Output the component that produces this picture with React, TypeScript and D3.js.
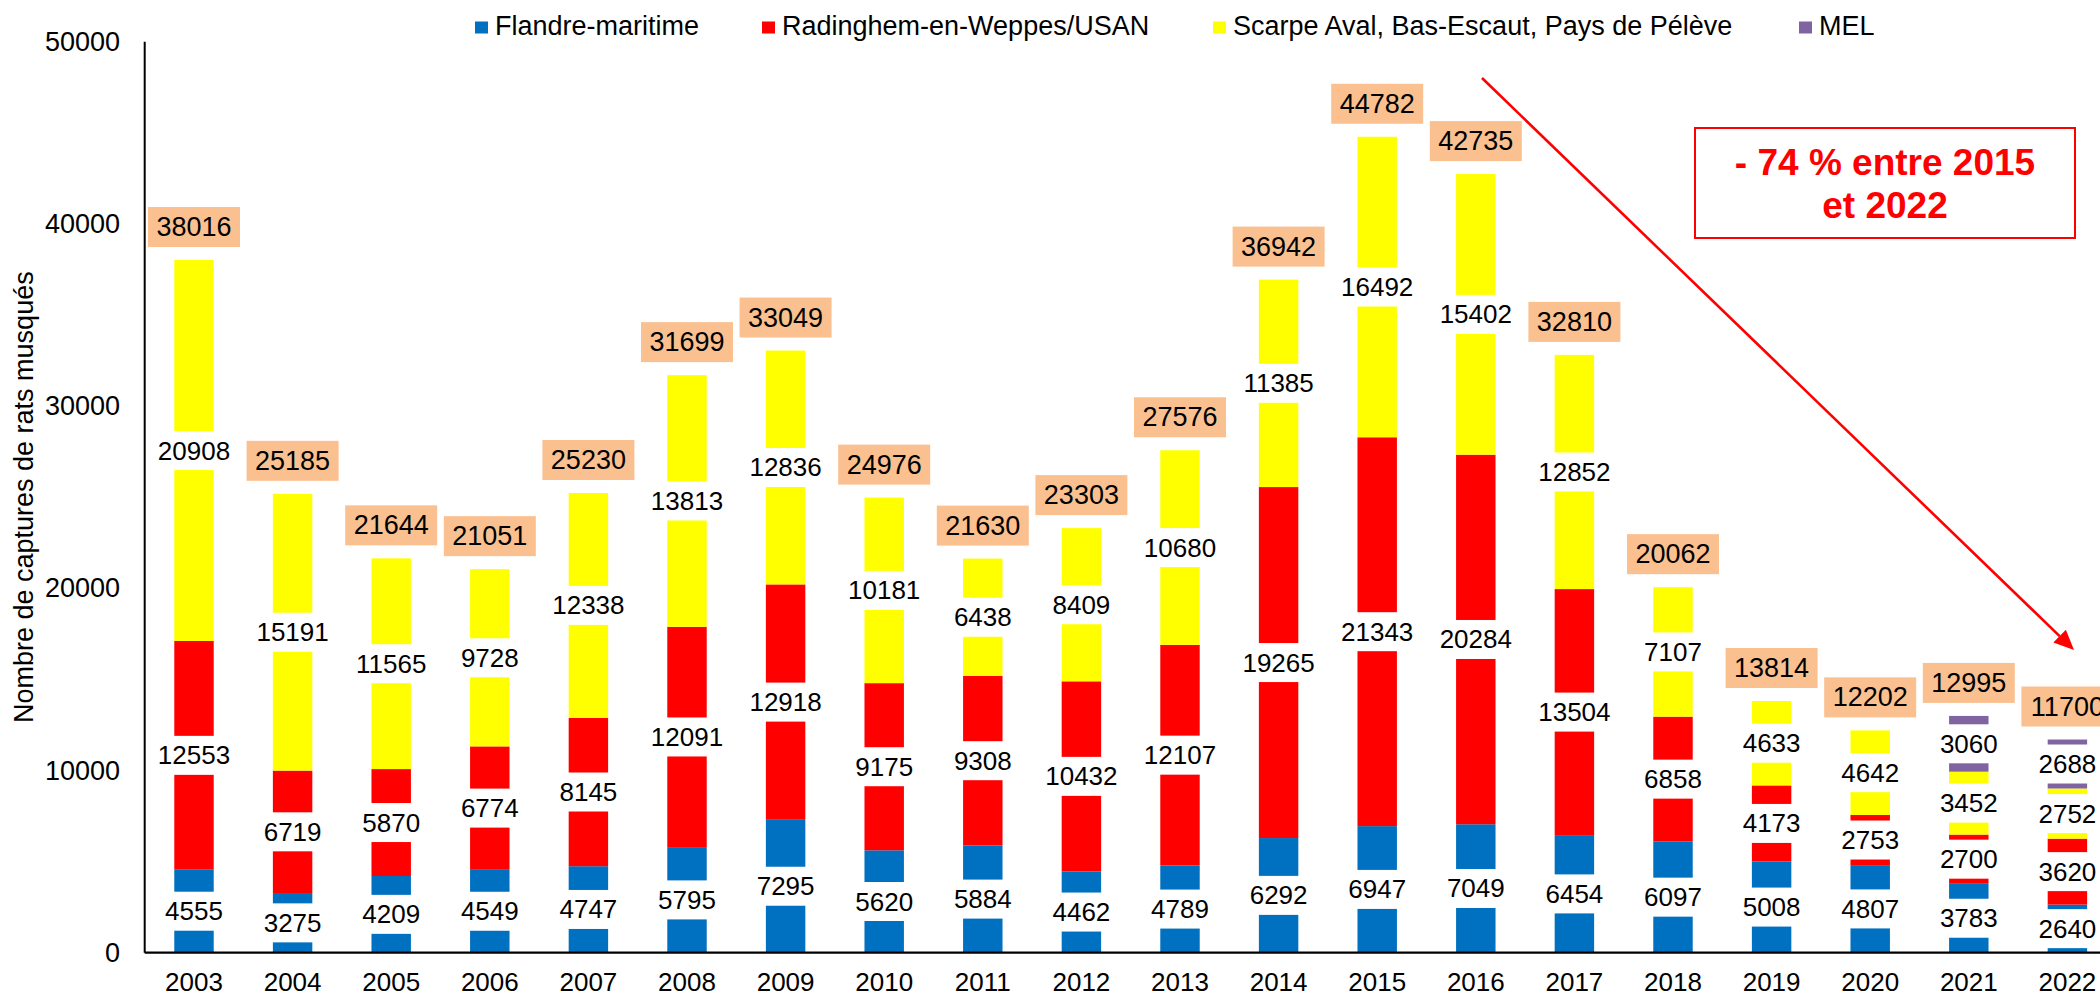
import * as d3 from "d3";

// captures per sector
const YEARS = ["2003", "2004", "2005", "2006", "2007", "2008", "2009", "2010", "2011", "2012",
  "2013", "2014", "2015", "2016", "2017", "2018", "2019", "2020", "2021", "2022"];
const FLANDRE = [4555, 3275, 4209, 4549, 4747, 5795, 7295, 5620, 5884, 4462,
  4789, 6292, 6947, 7049, 6454, 6097, 5008, 4807, 3783, 2640];
const RADINGHEM = [12553, 6719, 5870, 6774, 8145, 12091, 12918, 9175, 9308, 10432,
  12107, 19265, 21343, 20284, 13504, 6858, 4173, 2753, 2700, 3620];
const SCARPE = [20908, 15191, 11565, 9728, 12338, 13813, 12836, 10181, 6438, 8409,
  10680, 11385, 16492, 15402, 12852, 7107, 4633, 4642, 3452, 2752];
const MEL = [0, 0, 0, 0, 0, 0, 0, 0, 0, 0, 0, 0, 0, 0, 0, 0, 0, 0, 3060, 2688];
const TOTALS = [38016, 25185, 21644, 21051, 25230, 31699, 33049, 24976, 21630, 23303,
  27576, 36942, 44782, 42735, 32810, 20062, 13814, 12202, 12995, 11700];
const Y_TICKS = [0, 10000, 20000, 30000, 40000, 50000];

const SERIES = [
  { key: "flandre", name: "Flandre-maritime", color: "#0070C0", values: FLANDRE },
  { key: "radinghem", name: "Radinghem-en-Weppes/USAN", color: "#FF0000", values: RADINGHEM },
  { key: "scarpe", name: "Scarpe Aval, Bas-Escaut, Pays de Pélève", color: "#FFFF00", values: SCARPE },
  { key: "mel", name: "MEL", color: "#8064A2", values: MEL },
];

const WIDTH = 2100;
const HEIGHT = 997;
const PLOT = { left: 144.7, top: 41.7, bottom: 952.7 };
const STEP = 98.6;
const LEGEND_X = [475, 762, 1213, 1799];
const FONT = "'Liberation Sans', Arial, sans-serif";

export default function App() {
  const rows = YEARS.map((year, i) => {
    const r: any = { year };
    SERIES.forEach((s) => (r[s.key] = s.values[i]));
    return r;
  });

  const xScale = d3
    .scaleBand()
    .domain(YEARS)
    .range([PLOT.left, PLOT.left + STEP * YEARS.length])
    .padding(0);
  const barW = xScale.bandwidth() * 0.4;
  const cx = (year: string) => (xScale(year) as number) + xScale.bandwidth() / 2;

  const yScale = d3.scaleLinear().domain([0, 50000]).range([PLOT.bottom, PLOT.top]);

  const layers = d3.stack().keys(SERIES.map((s) => s.key))(rows);

  // stacked segments
  const bars = layers.map((layer, li) =>
    layer.map((d: any) => {
      if (d[1] - d[0] <= 0) return null;
      return (
        <rect
          key={`${li}-${d.data.year}`}
          x={cx(d.data.year) - barW / 2}
          y={yScale(d[1])}
          width={barW}
          height={yScale(d[0]) - yScale(d[1])}
          fill={SERIES[li].color}
        />
      );
    })
  );

  // segment labels on white boxes (they hide a slice of the bar)
  const labels = layers.map((layer, li) =>
    layer.map((d: any) => {
      const v = d[1] - d[0];
      if (v <= 0) return null;
      const x = cx(d.data.year);
      const y = yScale((d[0] + d[1]) / 2);
      return (
        <g key={`l${li}-${d.data.year}`}>
          <rect x={x - 46} y={y - 19.5} width={92} height={39} fill="#fff" />
          <text x={x} y={y} textAnchor="middle" dominantBaseline="central" fontSize={26} fill="#000">
            {v}
          </text>
        </g>
      );
    })
  );

  // totals above the bars
  const totals = YEARS.map((year, i) => {
    const w = 92;
    const h = 40;
    const cy = yScale(TOTALS[i]) - 33;
    const left = Math.max(cx(year) - w / 2, PLOT.left + 1.5);
    return (
      <g key={`t${year}`}>
        <rect x={left} y={cy - h / 2} width={w} height={h} fill="#FAC090" />
        <text x={left + w / 2} y={cy} textAnchor="middle" dominantBaseline="central" fontSize={27} fill="#000">
          {TOTALS[i]}
        </text>
      </g>
    );
  });

  // arrow 2015 -> 2022
  const a0 = [1482, 78];
  const a1 = [2074, 650];
  const len = Math.hypot(a1[0] - a0[0], a1[1] - a0[1]);
  const ux = (a1[0] - a0[0]) / len;
  const uy = (a1[1] - a0[1]) / len;
  const headL = 20;
  const headW = 9;
  const bx = a1[0] - ux * headL;
  const by = a1[1] - uy * headL;
  const head = [
    [a1[0], a1[1]],
    [bx - uy * headW, by + ux * headW],
    [bx + uy * headW, by - ux * headW],
  ];

  return (
    <div>
      <style>{`body{margin:0;overflow:hidden}`}</style>
      <svg
        width={WIDTH}
        height={HEIGHT}
        style={{ position: "absolute", left: 0, top: 0, background: "#fff" }}
        fontFamily={FONT}
      >
        <rect width={WIDTH} height={HEIGHT} fill="#fff" />

        {/* legend */}
        {SERIES.map((s, i) => (
          <g key={s.key}>
            <rect x={LEGEND_X[i]} y={21.5} width={13} height={12} fill={s.color} />
            <text x={LEGEND_X[i] + 20} y={35} fontSize={27} fill="#000">
              {s.name}
            </text>
          </g>
        ))}

        {/* y axis */}
        {Y_TICKS.map((t) => (
          <text key={t} x={120} y={yScale(t)} textAnchor="end" dominantBaseline="central" fontSize={27} fill="#000">
            {t}
          </text>
        ))}
        <text
          transform={`translate(33, ${(PLOT.top + PLOT.bottom) / 2}) rotate(-90)`}
          textAnchor="middle"
          fontSize={27}
          fill="#000"
        >
          Nombre de captures de rats musqués
        </text>

        {bars}
        {labels}
        {totals}

        <line x1={PLOT.left} x2={PLOT.left} y1={PLOT.top} y2={PLOT.bottom} stroke="#000" strokeWidth={2} />
        <line x1={PLOT.left} x2={WIDTH} y1={PLOT.bottom} y2={PLOT.bottom} stroke="#000" strokeWidth={2.2} />

        {YEARS.map((y) => (
          <text key={y} x={cx(y)} y={991} textAnchor="middle" fontSize={26} fill="#000">
            {y}
          </text>
        ))}

        {/* annotation */}
        <line x1={a0[0]} y1={a0[1]} x2={bx} y2={by} stroke="#FF0000" strokeWidth={2.6} />
        <polygon points={head.map((p) => p.join(",")).join(" ")} fill="#FF0000" />

        <rect x={1695} y={128} width={380} height={110} fill="#fff" stroke="#FF0000" strokeWidth={2} />
        <text x={1885} y={175} textAnchor="middle" fontSize={37} fontWeight="bold" fill="#FF0000">
          - 74 % entre 2015
        </text>
        <text x={1885} y={218} textAnchor="middle" fontSize={37} fontWeight="bold" fill="#FF0000">
          et 2022
        </text>
      </svg>
    </div>
  );
}
